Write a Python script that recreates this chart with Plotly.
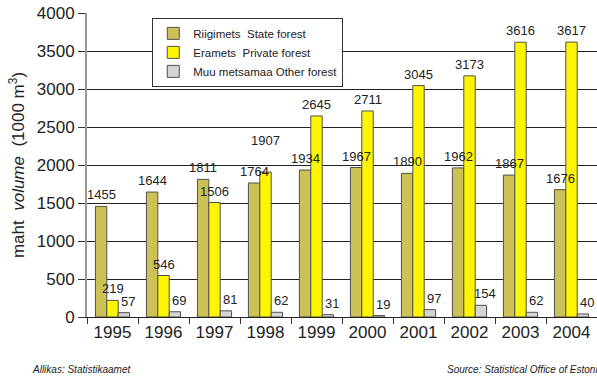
import plotly.graph_objects as go

years = ["1995", "1996", "1997", "1998", "1999", "2000", "2001", "2002", "2003", "2004"]
state = [1455, 1644, 1811, 1764, 1934, 1967, 1890, 1962, 1867, 1676]
private = [219, 546, 1506, 1907, 2645, 2711, 3045, 3173, 3616, 3617]
other = [57, 69, 81, 62, 31, 19, 97, 154, 62, 40]

series_names = ["Riigimets  State forest", "Eramets  Private forest", "Muu metsamaa Other forest"]
colors = ["#CCC155", "#FFF500", "#D4D4D4"]

fig = go.Figure()
for name, vals, col in zip(series_names, [state, private, other], colors):
    fig.add_trace(go.Bar(
        x=years, y=vals, name=name,
        marker=dict(color=col, line=dict(color="#505050", width=1)),
    ))

# data labels (x given as category index on the category axis)
label_font = dict(family="Liberation Sans, Arial, sans-serif", size=13, color="#222222")
offsets_px = [-11.3, 0, 11.3]
extra_x = [0, 0, 4]
nudge = {(1, "1998"): 20}
for si, vals in enumerate([state, private, other]):
    for ci, (yr, v) in enumerate(zip(years, vals)):
        fig.add_annotation(
            x=ci, y=v, text=str(v), showarrow=False,
            xshift=offsets_px[si] + extra_x[si],
            yshift=2 + nudge.get((si, yr), 0),
            yanchor="bottom", font=label_font,
        )

fig.add_annotation(
    xref="paper", yref="paper", x=-0.112, y=-0.174, xanchor="left", yanchor="middle",
    text="<i>Allikas: Statistikaamet</i>", showarrow=False,
    font=dict(family="Liberation Sans, Arial, sans-serif", size=10, color="#222222"),
)
fig.add_annotation(
    xref="paper", yref="paper", x=0.702, y=-0.174, xanchor="left", yanchor="middle",
    text="<i>Source: Statistical Office of Estonia</i>", showarrow=False,
    font=dict(family="Liberation Sans, Arial, sans-serif", size=10, color="#222222"),
)

fig.update_layout(
    width=597, height=377,
    margin=dict(l=87, r=0, t=13, b=60),
    paper_bgcolor="white", plot_bgcolor="white",
    barmode="group", bargap=0.33, bargroupgap=0,
    font=dict(family="Liberation Sans, Arial, sans-serif", color="#222222"),
    showlegend=True,
    legend=dict(
        x=0.128, y=0.984, xanchor="left", yanchor="top",
        bgcolor="white", bordercolor="#333333", borderwidth=1,
        font=dict(size=11.5, color="#222222"),
        tracegroupgap=0, itemwidth=30,
    ),
    xaxis=dict(
        type="category", range=[-0.5, 9.5], tickson="boundaries", ticks="outside", ticklen=6,
        tickcolor="#333333", showline=True, linecolor="#222222", linewidth=1,
        tickfont=dict(size=17), showgrid=False, tickangle=0, automargin=False,
        ticklabeloverflow="allow",
    ),
    yaxis=dict(
        range=[0, 4000], dtick=500, ticks="outside", ticklen=7, tickcolor="#333333",
        showgrid=True, gridcolor="#222222", gridwidth=1,
        showline=True, linecolor="#999999", linewidth=2,
        zeroline=False, tickfont=dict(size=17), automargin=False,
        ticklabeloverflow="allow",
        title=dict(text="maht  <i>volume</i>  (1000 m<sup>3</sup>)", font=dict(size=17), standoff=8),
    ),
)

fig.write_html("out.html", config={"displayModeBar": False},
               post_script="document.body.style.margin='0';")
